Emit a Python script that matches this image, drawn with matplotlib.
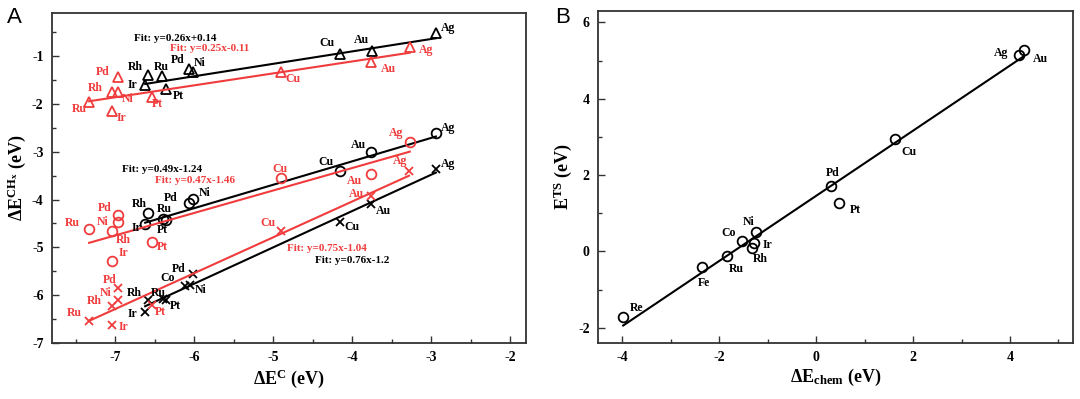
import numpy as np
import matplotlib
matplotlib.use("Agg")
import matplotlib.pyplot as plt
from matplotlib.ticker import MultipleLocator

plt.rcParams['font.family'] = ['Liberation Serif', 'DejaVu Serif']
plt.rcParams['font.weight'] = 'bold'
plt.rcParams['mathtext.fontset'] = 'custom'
plt.rcParams['mathtext.rm'] = 'Liberation Serif:bold'
plt.rcParams['mathtext.it'] = 'Liberation Serif:bold'
plt.rcParams['mathtext.bf'] = 'Liberation Serif:bold'

RED = '#f03c3c'

# ---- Panel A data: dE^C (x) vs dE^CHx (y) ----
# CH3 (triangles)
tri_blk_names = ['Ag', 'Au', 'Cu', 'Ni', 'Pd', 'Ru', 'Rh', 'Ir', 'Pt']
tri_blk_x = [-2.94, -3.75, -4.16, -6.01, -6.07, -6.41, -6.58, -6.62, -6.36]
tri_blk_y = [-0.51, -0.90, -0.96, -1.33, -1.26, -1.42, -1.40, -1.60, -1.68]
tri_red_names = ['Ag', 'Au', 'Cu', 'Pd', 'Rh', 'Ni', 'Ru', 'Ir', 'Pt']
tri_red_x = [-3.27, -3.76, -4.90, -6.96, -7.04, -6.97, -7.33, -7.04, -6.53]
tri_red_y = [-0.81, -1.12, -1.33, -1.44, -1.74, -1.75, -1.95, -2.14, -1.85]

# CH2 (circles)
cir_blk_names = ['Ag', 'Au', 'Cu', 'Ni', 'Pd', 'Rh', 'Ru', 'Pt', 'Ir']
cir_blk_x = [-2.94, -3.76, -4.16, -6.01, -6.07, -6.58, -6.40, -6.36, -6.62]
cir_blk_y = [-2.60, -3.00, -3.41, -3.99, -4.08, -4.28, -4.40, -4.42, -4.51]
cir_red_names = ['Ag', 'Au', 'Cu', 'Pd', 'Ni', 'Ru', 'Rh', 'Pt', 'Ir']
cir_red_x = [-3.27, -3.76, -4.90, -6.96, -6.96, -7.33, -7.04, -6.53, -7.04]
cir_red_y = [-2.80, -3.47, -3.55, -4.32, -4.47, -4.61, -4.66, -4.89, -5.29]

# CH (crosses)
crs_blk_names = ['Ag', 'Au', 'Cu', 'Pd', 'Co', 'Ni', 'Rh', 'Ru', 'Pt', 'Ir']
crs_blk_x = [-2.94, -3.76, -4.16, -6.02, -6.12, -6.05, -6.58, -6.40, -6.36, -6.62]
crs_blk_y = [-3.37, -4.09, -4.47, -5.56, -5.80, -5.79, -6.10, -6.08, -6.11, -6.35]
crs_red_names = ['Ag', 'Au', 'Cu', 'Pd', 'Ni', 'Rh', 'Ru', 'Ir', 'Pt']
crs_red_x = [-3.28, -3.76, -4.90, -6.96, -6.96, -7.04, -7.33, -7.04, -6.53]
crs_red_y = [-3.41, -3.93, -4.66, -5.85, -6.10, -6.23, -6.53, -6.63, -6.20]

# fit coefficients printed on the chart (slope, intercept)
fit_tri_blk = (0.26, 0.14)
fit_tri_red = (0.25, -0.11)
fit_cir_blk = (0.49, -1.24)
fit_cir_red = (0.47, -1.46)
fit_crs_blk = (0.76, -1.2)
fit_crs_red = (0.75, -1.04)

# ---- Panel B data: dE_chem vs E^TS ----
b_names = ['Ag', 'Au', 'Cu', 'Pd', 'Pt', 'Ni', 'Co', 'Ir', 'Rh', 'Ru', 'Fe', 'Re']
b_x = [4.19, 4.29, 1.63, 0.30, 0.47, -1.24, -1.53, -1.28, -1.33, -1.83, -2.36, -3.98]
b_y = [5.15, 5.28, 2.95, 1.71, 1.26, 0.51, 0.28, 0.21, 0.08, -0.11, -0.42, -1.71]

# label offsets in pixels (dx, dy)
off_tri_blk = [(12, 5), (-10, 11), (-13, 11), (6, 9), (-11, 9), (0, 9), (-13, 8), (-13, 0), (13, -7)]
off_tri_red = [(16, -3), (17, -7), (12, -7), (-16, 5), (-17, 4), (10, -7), (-10, -7), (9, -7), (5, -7)]
off_cir_blk = [(12, 5), (-13, 7), (-14, 9), (11, 6), (-18, 5), (-9, 9), (2, 10), (-3, -10), (-9, -4)]
off_cir_red = [(-14, 9), (-17, -7), (-1, 9), (-14, 7), (-16, 0), (-17, 6), (11, -9), (10, -5), (11, 8)]
off_crs_blk = [(12, 5), (12, -7), (12, -5), (-14, 5), (-17, 8), (10, -5), (-14, 7), (-4, 6), (10, -6), (-13, -2)]
off_crs_red = [(-9, 10), (-15, 2), (-13, 8), (-9, 8), (-13, 7), (-18, 5), (-15, 8), (11, -2), (8, -7)]
off_b = [(-18, 2), (16, -9), (14, -13), (2, 13), (16, -7), (-7, 10), (-13, 8), (13, -2),
         (9, -11), (9, -13), (2, -16), (13, 9)]

fig = plt.figure(figsize=(10.8, 3.99), dpi=100)
axA = fig.add_axes([0.0481, 0.1404, 0.4389, 0.8266])
axB = fig.add_axes([0.5537, 0.1404, 0.4398, 0.8320])


def style_axis(ax):
    for s in ax.spines.values():
        s.set_linewidth(1.3)
        s.set_color('#333333')
    ax.tick_params(which='both', direction='in', top=False, right=False,
                   labelsize=10, width=1.0, color='#333333')
    ax.tick_params(which='major', length=5, pad=6)
    ax.tick_params(which='minor', length=3)
    for lab in ax.get_xticklabels() + ax.get_yticklabels():
        lab.set_fontweight('bold')


def draw_series(ax, names, xs, ys, offs, marker, color, fit):
    ms = 7 if marker != 'x' else 5.5
    ax.plot(xs, ys, linestyle='none', marker=marker, markersize=ms,
            markerfacecolor='none', markeredgecolor=color, markeredgewidth=1.3)
    xr = np.array([min(xs), max(xs)])
    ax.plot(xr, fit[0] * xr + fit[1], color=color, lw=1.5)
    for n, x, y, o in zip(names, xs, ys, offs):
        ax.annotate(n, (x, y), xytext=o, textcoords='offset pixels',
                    ha='center', va='center', fontsize=8.5, fontweight='bold', color=color)


draw_series(axA, tri_blk_names, tri_blk_x, tri_blk_y, off_tri_blk, '^', 'black', fit_tri_blk)
draw_series(axA, tri_red_names, tri_red_x, tri_red_y, off_tri_red, '^', RED, fit_tri_red)
draw_series(axA, cir_blk_names, cir_blk_x, cir_blk_y, off_cir_blk, 'o', 'black', fit_cir_blk)
draw_series(axA, cir_red_names, cir_red_x, cir_red_y, off_cir_red, 'o', RED, fit_cir_red)
draw_series(axA, crs_blk_names, crs_blk_x, crs_blk_y, off_crs_blk, 'x', 'black', fit_crs_blk)
draw_series(axA, crs_red_names, crs_red_x, crs_red_y, off_crs_red, 'x', RED, fit_crs_red)

fit_text = [
    (-6.76, -0.63, fit_tri_blk, 'black'),
    (-6.31, -0.83, fit_tri_red, RED),
    (-6.91, -3.37, fit_cir_blk, 'black'),
    (-6.50, -3.61, fit_cir_red, RED),
    (-4.83, -5.02, fit_crs_red, RED),
    (-4.47, -5.27, fit_crs_blk, 'black'),
]
for x, y, f, c in fit_text:
    sign = '+' if f[1] >= 0 else '-'
    axA.text(x, y, f"Fit: y={f[0]:g}x{sign}{abs(f[1]):g}", color=c,
             fontsize=8, fontweight='bold', ha='left', va='center')

axA.set_xlim(-7.8, -1.8)
axA.set_ylim(-7, -0.1)
axA.xaxis.set_minor_locator(MultipleLocator(0.5))
axA.yaxis.set_minor_locator(MultipleLocator(0.5))
axA.set_xticks([-7, -6, -5, -4, -3, -2])
axA.set_xticklabels(['-7', '-6', '-5', '-4', '-3', '-2'])
axA.set_yticks([-7, -6, -5, -4, -3, -2, -1])
axA.set_yticklabels(['-7', '-6', '-5', '-4', '-3', '-2', '-1'])
style_axis(axA)
axA.set_xlabel(r'$\Delta$E$^{\rm C}$ (eV)', fontsize=13, fontweight='bold', labelpad=2)
axA.set_ylabel(r'$\Delta$E$^{\rm CH_x}$ (eV)', fontsize=13, fontweight='bold', labelpad=3)

# Panel B
axB.plot(b_x, b_y, linestyle='none', marker='o', markersize=7,
         markerfacecolor='none', markeredgecolor='black', markeredgewidth=1.3)
k, b0 = np.polyfit(b_x, b_y, 1)
xr = np.array([min(b_x), max(b_x)])
axB.plot(xr, k * xr + b0, color='black', lw=1.5)
for n, x, y, o in zip(b_names, b_x, b_y, off_b):
    axB.annotate(n, (x, y), xytext=o, textcoords='offset pixels',
                 ha='center', va='center', fontsize=8.5, fontweight='bold', color='black')
axB.set_xlim(-4.5, 5.3)
axB.set_ylim(-2.4, 6.3)
axB.set_xticks([-4, -2, 0, 2, 4])
axB.set_xticklabels(['-4', '-2', '0', '2', '4'])
axB.set_yticks([-2, 0, 2, 4, 6])
axB.set_yticklabels(['-2', '0', '2', '4', '6'])
axB.xaxis.set_minor_locator(MultipleLocator(1))
axB.yaxis.set_minor_locator(MultipleLocator(1))
style_axis(axB)
axB.set_xlabel(r'$\Delta$E$_{\rm chem}$ (eV)', fontsize=13, fontweight='bold', labelpad=2)
axB.set_ylabel(r'E$^{\rm TS}$ (eV)', fontsize=13, fontweight='bold', labelpad=3)

fig.text(0.006, 0.955, 'A', fontsize=16, family='Liberation Sans', fontweight='normal', va='center')
fig.text(0.514, 0.955, 'B', fontsize=16, family='Liberation Sans', fontweight='normal', va='center')

fig.savefig('out.png', dpi=100)
